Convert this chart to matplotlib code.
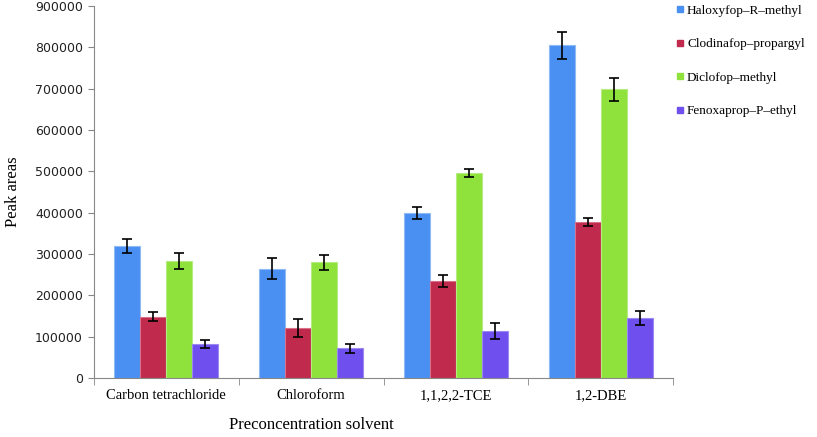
import matplotlib
matplotlib.use("Agg")
import matplotlib.pyplot as plt
import numpy as np
from matplotlib.lines import Line2D

categories = ["Carbon tetrachloride", "Chloroform", "1,1,2,2-TCE", "1,2-DBE"]
series = ["Haloxyfop\u2013R\u2013methyl", "Clodinafop\u2013propargyl", "Diclofop\u2013methyl", "Fenoxaprop\u2013P\u2013ethyl"]
haloxyfop = [320000, 265000, 400000, 805000]
haloxyfop_err = [17000, 25000, 15000, 32000]
clodinafop = [148000, 122000, 235000, 378000]
clodinafop_err = [11000, 22000, 14000, 10000]
diclofop = [283000, 280000, 496000, 699000]
diclofop_err = [20000, 18000, 9000, 28000]
fenoxaprop = [83000, 72000, 114000, 145000]
fenoxaprop_err = [10000, 11000, 20000, 16000]
yticks = [0, 100000, 200000, 300000, 400000, 500000, 600000, 700000, 800000, 900000]

colors = ["#4a8ff2", "#c02a4c", "#8fe23c", "#6f50ee"]
edge = ["#8fbaf5", "#d77088", "#b5ec80", "#9c88f2"]

fig = plt.figure(figsize=(8.17, 4.37), dpi=100)
ax = fig.add_axes([0.115, 0.135, 0.709, 0.851])

vals = [haloxyfop, clodinafop, diclofop, fenoxaprop]
errs = [haloxyfop_err, clodinafop_err, diclofop_err, fenoxaprop_err]
x = np.arange(len(categories))
w = 0.18
for i in range(4):
    ax.bar(x + (i - 1.5) * w, vals[i], w, color=colors[i], edgecolor=edge[i], linewidth=0.8,
           yerr=errs[i], error_kw=dict(ecolor="black", elinewidth=1.2, capsize=3.5, capthick=1.2))

ax.set_xlim(-0.5, 3.5)
ax.set_ylim(0, 900000)
ax.set_yticks(yticks)
ax.set_yticklabels([str(v) for v in yticks], fontsize=9, family="DejaVu Sans", color="#222222")
ax.set_xticks(x)
ax.set_xticklabels(categories, fontsize=10.5, family="Liberation Serif")
ax.set_xticks(np.arange(-0.5, 4.0, 1.0), minor=True)
ax.tick_params(axis="x", which="major", length=0, pad=8)
ax.tick_params(axis="x", which="minor", length=5, color="#888888")
ax.tick_params(axis="y", length=4, color="#888888", pad=4)
for s in ["top", "right"]:
    ax.spines[s].set_visible(False)
for s in ["left", "bottom"]:
    ax.spines[s].set_color("#888888")

ax.set_ylabel("Peak areas", fontsize=12, family="Liberation Serif", labelpad=10)
ax.set_xlabel("Preconcentration solvent", fontsize=12, family="Liberation Serif")
ax.xaxis.set_label_coords(0.375, -0.105)

handles = [Line2D([0], [0], marker="s", linestyle="none", markersize=4.5, markerfacecolor=c, markeredgecolor=c) for c in colors]
fig.legend(handles, series, loc="upper left", bbox_to_anchor=(0.828, 0.99), frameon=False,
           prop={"family": "Liberation Serif", "size": 9.5}, labelspacing=1.62,
           handletextpad=0.2, handlelength=0.6, borderpad=0, borderaxespad=0)

fig.savefig("out.png", dpi=100)
